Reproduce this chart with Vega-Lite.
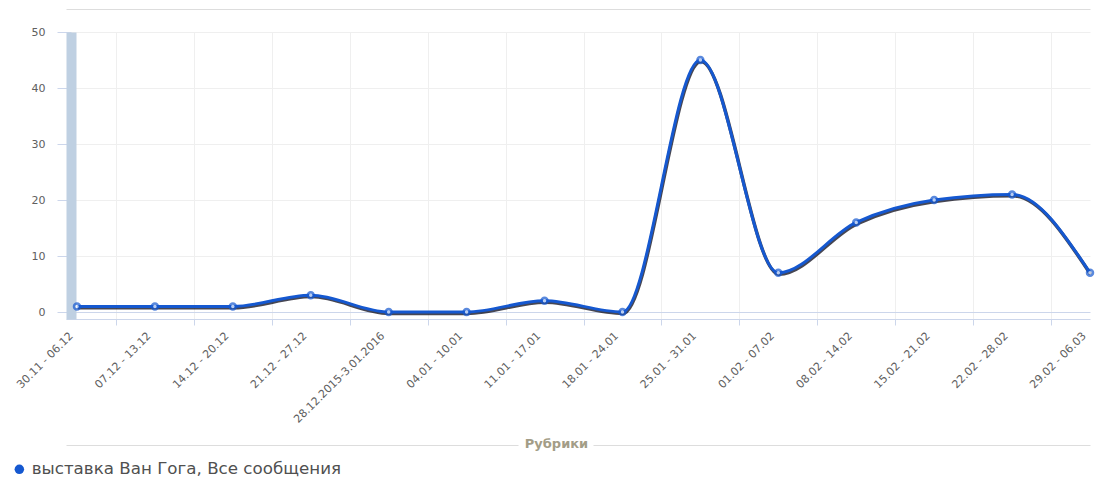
{
  "$schema": "https://vega.github.io/schema/vega-lite/v6.json",
  "autosize": {"type": "none"},
  "padding": {"left": 66, "top": 32, "right": 10, "bottom": 164},
  "width": 1024,
  "height": 287,
  "background": "white",
  "config": {
    "view": {"stroke": null},
    "font": "DejaVu Sans",
    "axis": {"labelFont": "DejaVu Sans", "titleFont": "DejaVu Sans"}
  },
  "data": {
    "values": [
      {"i": 0, "week": "30.11 - 06.12", "count": 1, "series": "выставка Ван Гога, Все сообщения"},
      {"i": 1, "week": "07.12 - 13.12", "count": 1, "series": "выставка Ван Гога, Все сообщения"},
      {"i": 2, "week": "14.12 - 20.12", "count": 1, "series": "выставка Ван Гога, Все сообщения"},
      {"i": 3, "week": "21.12 - 27.12", "count": 3, "series": "выставка Ван Гога, Все сообщения"},
      {"i": 4, "week": "28.12.2015-3.01.2016", "count": 0, "series": "выставка Ван Гога, Все сообщения"},
      {"i": 5, "week": "04.01 - 10.01", "count": 0, "series": "выставка Ван Гога, Все сообщения"},
      {"i": 6, "week": "11.01 - 17.01", "count": 2, "series": "выставка Ван Гога, Все сообщения"},
      {"i": 7, "week": "18.01 - 24.01", "count": 0, "series": "выставка Ван Гога, Все сообщения"},
      {"i": 8, "week": "25.01 - 31.01", "count": 45, "series": "выставка Ван Гога, Все сообщения"},
      {"i": 9, "week": "01.02 - 07.02", "count": 7, "series": "выставка Ван Гога, Все сообщения"},
      {"i": 10, "week": "08.02 - 14.02", "count": 16, "series": "выставка Ван Гога, Все сообщения"},
      {"i": 11, "week": "15.02 - 21.02", "count": 20, "series": "выставка Ван Гога, Все сообщения"},
      {"i": 12, "week": "22.02 - 28.02", "count": 21, "series": "выставка Ван Гога, Все сообщения"},
      {"i": 13, "week": "29.02 - 06.03", "count": 7, "series": "выставка Ван Гога, Все сообщения"}
    ]
  },
  "resolve": {"axis": {"x": "independent", "y": "independent"}},
  "layer": [
    {
      "mark": {"type": "line", "interpolate": "monotone", "color": "#0a0a1a", "strokeWidth": 3.5, "opacity": 0.75, "xOffset": 0.6, "yOffset": 1.4},
      "encoding": {
        "x": {
          "field": "i", "type": "quantitative",
          "scale": {"domain": [-0.141, 13], "nice": false, "zero": false},
          "axis": {
            "values": [0, 1, 2, 3, 4, 5, 6, 7, 8, 9, 10, 11, 12, 13],
            "labelExpr": "['30.11 - 06.12','07.12 - 13.12','14.12 - 20.12','21.12 - 27.12','28.12.2015-3.01.2016','04.01 - 10.01','11.01 - 17.01','18.01 - 24.01','25.01 - 31.01','01.02 - 07.02','08.02 - 14.02','15.02 - 21.02','22.02 - 28.02','29.02 - 06.03'][datum.value]",
            "tickOffset": 39,
            "labelOffset": -45,
            "labelAngle": -45,
            "labelAlign": "right",
            "labelBaseline": "middle",
            "labelFontSize": 11,
            "labelColor": "#606060",
            "labelPadding": 9,
            "labelFlush": false,
            "labelOverlap": false,
            "labelBound": false,
            "domainColor": "#ccd6eb",
            "domainWidth": 1,
            "ticks": true,
            "tickSize": 6,
            "tickColor": "#ccd6eb",
            "tickOpacity": {"condition": {"test": "datum.value > 12.5", "value": 0}, "value": 1},
            "grid": true,
            "gridColor": "#efefef",
            "gridOpacity": {"condition": {"test": "datum.value > 12.5", "value": 0}, "value": 1},
            "title": "Рубрики",
            "titleFontSize": 13,
            "titleFontWeight": "bold",
            "titleColor": "#a39d87",
            "titleX": 490,
            "titleY": 124,
            "titleBaseline": "middle",
            "titleAlign": "center"
          }
        },
        "y": {
          "field": "count", "type": "quantitative",
          "scale": {"domain": [-1.25, 50], "nice": false, "zero": false},
          "axis": {
            "values": [0, 10, 20, 30, 40, 50],
            "offset": -5,
            "domainColor": "#bfd0e2",
            "domainWidth": 10,
            "tickColor": "#ccd6eb",
            "tickSize": 14,
            "labelPadding": 12,
            "labelFontSize": 11,
            "labelColor": "#606060",
            "grid": true,
            "gridColor": {"condition": {"test": "datum.value === 0", "value": "#ccd6eb"}, "value": "#efefef"},
            "title": null
          }
        }
      }
    },
    {
      "mark": {"type": "line", "interpolate": "monotone", "strokeWidth": 3},
      "encoding": {
        "x": {
          "field": "i", "type": "quantitative",
          "axis": {
            "orient": "bottom", "offset": 126, "labels": false, "ticks": false, "grid": false,
            "domainColor": "#dddddd", "domainWidth": 1, "domainDash": [452, 75, 700], "title": null
          }
        },
        "y": {"field": "count", "type": "quantitative", "axis": null},
        "color": {
          "field": "series", "type": "nominal",
          "scale": {"range": ["#1558d0"]},
          "legend": {
            "orient": "none", "legendX": -55, "legendY": 429, "title": null, "padding": 0,
            "symbolType": "circle", "symbolSize": 90, "symbolFillColor": "#1558d0", "symbolStrokeColor": "#1558d0",
            "symbolStrokeWidth": 0,
            "labelFontSize": 16.7, "labelColor": "#505050", "labelFont": "DejaVu Sans", "labelOffset": 4, "labelLimit": 600
          }
        }
      }
    },
    {
      "mark": {"type": "point", "shape": "circle", "filled": true, "fill": "white", "stroke": "#1558d0", "strokeWidth": 2.5, "size": 36},
      "encoding": {
        "x": {
          "field": "i", "type": "quantitative",
          "axis": {
            "orient": "top", "offset": 23, "labels": false, "ticks": false, "grid": false,
            "domainColor": "#dddddd", "domainWidth": 1, "title": null
          }
        },
        "y": {"field": "count", "type": "quantitative", "axis": null}
      }
    }
  ]
}
